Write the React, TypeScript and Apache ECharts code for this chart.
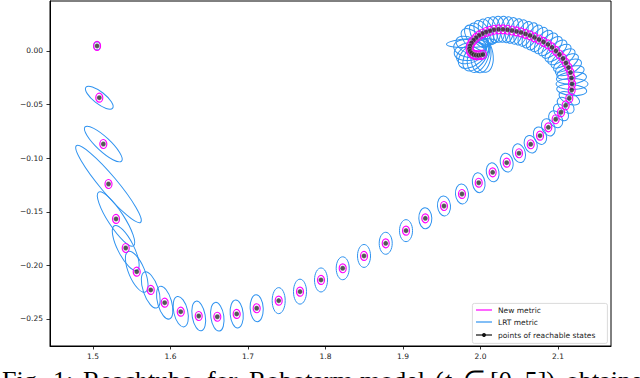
import React, { useEffect, useRef } from "react";
import * as echarts from "echarts";

// Centres of the reachable states (x, y)
const stateX = [1.5052, 1.5081, 1.5133, 1.52, 1.5297, 1.5422, 1.5564, 1.5745, 1.5925, 1.6132, 1.6364, 1.6604, 1.6854, 1.7112, 1.7396, 1.7671, 1.7942, 1.8222, 1.8497, 1.8777, 1.9039, 1.9288, 1.9529, 1.9761, 1.9977, 2.0157, 2.0338, 2.0497, 2.0648, 2.0768, 2.0875, 2.097, 2.1039, 2.1099, 2.1146, 2.1177, 2.1181, 2.1174, 2.1161, 2.1135, 2.1103, 2.1065, 2.1019, 2.0974, 2.0923, 2.0871, 2.0813, 2.0755, 2.0697, 2.0639, 2.0581, 2.0523, 2.0465, 2.0406, 2.0348, 2.029, 2.0232, 2.0174, 2.0123, 2.0071, 2.0026, 1.9981, 1.9942, 1.991, 1.9884, 1.9865, 1.9858, 1.9865, 1.9884, 1.991, 1.9942, 1.9974, 2.0006, 2.0032];
const stateY = [0.0047, -0.0436, -0.0868, -0.1241, -0.1567, -0.1838, -0.2059, -0.2229, -0.2348, -0.2432, -0.2472, -0.2479, -0.2453, -0.24, -0.2329, -0.2245, -0.2136, -0.2027, -0.1912, -0.1794, -0.1676, -0.1561, -0.1446, -0.1334, -0.1229, -0.1132, -0.1042, -0.0954, -0.087, -0.079, -0.0712, -0.0637, -0.0572, -0.0507, -0.0441, -0.0364, -0.0308, -0.0252, -0.0201, -0.0154, -0.0112, -0.007, -0.0033, 0.0, 0.0033, 0.0061, 0.0084, 0.0107, 0.0126, 0.0145, 0.0159, 0.0173, 0.0182, 0.0191, 0.0198, 0.0202, 0.0202, 0.0198, 0.0188, 0.0177, 0.0163, 0.0145, 0.0123, 0.01, 0.0075, 0.0047, 0.0021, -0.0003, -0.0021, -0.0033, -0.0039, -0.004, -0.0037, -0.0033];

// LRT metric ellipses: semi-axes (in x-axis units) and tilt (degrees)
const lrtMajor = [0.0052, 0.0219, 0.0323, 0.0645, 0.0413, 0.0323, 0.0284, 0.0245, 0.0219, 0.02, 0.0194, 0.0187, 0.0181, 0.0174, 0.0168, 0.0161, 0.0155, 0.0148, 0.0148, 0.0142, 0.0142, 0.0135, 0.0129, 0.0129, 0.0129, 0.0123, 0.0123, 0.0123, 0.0116, 0.0116, 0.0116, 0.0116, 0.0123, 0.0129, 0.0142, 0.0194, 0.0206, 0.0194, 0.0181, 0.0181, 0.0181, 0.0181, 0.0181, 0.0181, 0.0174, 0.0174, 0.0174, 0.0174, 0.0174, 0.0174, 0.0168, 0.0168, 0.0168, 0.0168, 0.0168, 0.0168, 0.0168, 0.0168, 0.0174, 0.0174, 0.0181, 0.0181, 0.0194, 0.0194, 0.0323, 0.0194, 0.0206, 0.0206, 0.0206, 0.0232, 0.0232, 0.0232, 0.0232, 0.0232];
const lrtMinor = [0.0045, 0.0077, 0.009, 0.011, 0.0103, 0.0103, 0.0103, 0.0097, 0.009, 0.009, 0.0084, 0.0084, 0.0084, 0.0084, 0.0084, 0.0084, 0.0084, 0.0084, 0.0084, 0.0084, 0.0084, 0.0084, 0.0084, 0.0084, 0.0081, 0.0081, 0.0081, 0.0081, 0.0081, 0.0081, 0.0081, 0.0081, 0.0077, 0.0077, 0.0071, 0.0071, 0.0071, 0.0077, 0.0077, 0.0084, 0.0084, 0.0084, 0.0084, 0.0084, 0.0084, 0.0084, 0.0084, 0.0084, 0.0084, 0.0084, 0.0084, 0.0084, 0.0084, 0.0084, 0.0084, 0.0084, 0.0084, 0.0084, 0.009, 0.009, 0.009, 0.009, 0.0103, 0.0103, 0.0058, 0.0103, 0.0116, 0.0116, 0.0116, 0.0129, 0.0129, 0.0129, 0.0129, 0.0129];
const lrtAngle = [90, -38, -43, -50, -57, -63, -67, -71, -74, -77, -80, -82, -85, -87, 90, 90, 90, 90, 90, 90, 90, 92, 95, 95, 98, 100, 102, 105, 108, 110, 115, 120, 128, 138, 155, 175, 0, 5, 15, 25, 32, 36, 40, 45, 48, 52, 56, 60, 64, 67, 70, 74, 77, 80, 84, 87, 92, 96, 102, 108, 115, 122, 130, 138, 3, 155, 170, 10, 25, 40, 55, 70, 85, 100];

// New metric ellipses (semi-axes in x-axis units, tilt in degrees)
const newMajor = [0.0058];
const newMinor = [0.0045];
const newAngle = [90];

// Axis ticks
const xTicks = [1.5, 1.6, 1.7, 1.8, 1.9, 2.0, 2.1];
const yTicks = [0, -0.05, -0.1, -0.15, -0.2, -0.25];

const legendNames = ["New metric", "LRT metric", "points of reachable states"];

const BLUE = "#2f93f0";
const MAGENTA = "#ff00ff";

function ellipseRenderer(color: string, lw: number) {
  return (params: any, api: any) => {
    const c = api.coord([api.value(0), api.value(1)]);
    const a = api.size([api.value(2), 0])[0];
    const b = api.size([api.value(3), 0])[0];
    const ang = (api.value(4) * Math.PI) / 180;
    return {
      type: "ellipse",
      x: c[0],
      y: c[1],
      rotation: ang,
      shape: { cx: 0, cy: 0, rx: a, ry: b },
      style: { fill: "none", stroke: color, lineWidth: lw },
    };
  };
}

export default function App() {
  const ref = useRef<HTMLDivElement>(null);
  useEffect(() => {
    if (!ref.current) return;
    const chart = echarts.init(ref.current, null, { renderer: "svg" });
    const lrtData = stateX.map((x, i) => [x, stateY[i], lrtMajor[i], lrtMinor[i], lrtAngle[i]]);
    const newData = stateX.map((x, i) => [x, stateY[i], newMajor[0], newMinor[0], newAngle[0]]);
    const ptData = stateX.map((x, i) => [x, stateY[i]]);
    const serif = '"Liberation Serif", "Times New Roman", serif';
    const capFont = `26px ${serif}`;
    const capY = 380;
    const legFont = '7.5px "DejaVu Sans"';
    const cap = (x: number, text: string, italic = false) => ({
      type: "text",
      x,
      y: capY,
      style: { text, font: italic ? `italic ${capFont}` : capFont, fill: "#000", verticalAlign: "middle" },
    });
    chart.setOption({
      animation: false,
      grid: { left: 50, right: 29, top: 1, bottom: 32, show: true, borderColor: "#000", borderWidth: 1, backgroundColor: "transparent" },
      xAxis: {
        type: "value",
        min: 1.4445,
        max: 2.1684,
        axisLine: { show: true, onZero: false, lineStyle: { color: "#000", width: 1 } },
        axisTick: { show: true, length: 3.5, customValues: xTicks, lineStyle: { color: "#000", width: 0.8 } },
        axisLabel: { customValues: xTicks, margin: 6, fontSize: 7.5, fontFamily: "DejaVu Sans", color: "#222", formatter: (v: number) => v.toFixed(1) },
        splitLine: { show: false },
      },
      yAxis: {
        type: "value",
        min: -0.2752,
        max: 0.0466,
        axisLine: { show: true, onZero: false, lineStyle: { color: "#000", width: 1 } },
        axisTick: { show: true, length: 3.5, customValues: yTicks, lineStyle: { color: "#000", width: 0.8 } },
        axisLabel: { customValues: yTicks, margin: 7, fontSize: 7.5, fontFamily: "DejaVu Sans", color: "#222", formatter: (v: number) => v.toFixed(2).replace("-", "\u2212") },
        splitLine: { show: false },
      },
      series: [
        { type: "custom", name: legendNames[1], data: lrtData, renderItem: ellipseRenderer(BLUE, 1), encode: { x: 0, y: 1 }, z: 2 },
        { type: "custom", name: legendNames[0], data: newData, renderItem: ellipseRenderer(MAGENTA, 1.2), encode: { x: 0, y: 1 }, z: 3 },
        { type: "scatter", name: legendNames[2], data: ptData, symbol: "circle", symbolSize: 5, itemStyle: { color: "#2a2a2a", borderColor: "#ddd", borderWidth: 0.4 }, z: 4 },
      ],
      graphic: [
        { type: "rect", left: 472, top: 303, shape: { width: 135, height: 40, r: 2 }, style: { fill: "rgba(255,255,255,0.85)", stroke: "#d0d0d0", lineWidth: 0.8 }, z: 100 },
        { type: "line", shape: { x1: 476, y1: 310, x2: 492, y2: 310 }, style: { stroke: MAGENTA, lineWidth: 1.2 }, z: 101 },
        { type: "line", shape: { x1: 476, y1: 322, x2: 492, y2: 322 }, style: { stroke: BLUE, lineWidth: 1.2 }, z: 101 },
        { type: "line", shape: { x1: 476, y1: 335, x2: 492, y2: 335 }, style: { stroke: "#111", lineWidth: 1.2 }, z: 101 },
        { type: "circle", shape: { cx: 484, cy: 335, r: 2 }, style: { fill: "#111" }, z: 102 },
        { type: "text", x: 498, y: 310, style: { text: legendNames[0], font: legFont, fill: "#222", verticalAlign: "middle" }, z: 101 },
        { type: "text", x: 498, y: 322, style: { text: legendNames[1], font: legFont, fill: "#222", verticalAlign: "middle" }, z: 101 },
        { type: "text", x: 498, y: 335, style: { text: legendNames[2], font: legFont, fill: "#222", verticalAlign: "middle" }, z: 101 },
        cap(2, "Fig."),
        cap(53, "1:"),
        cap(83, "Reachtube"),
        cap(207, "for"),
        cap(249, "Robotarm"),
        cap(360, "model"),
        cap(435, "("),
        cap(444, "t", true),
        cap(463, "\u2208"),
        cap(490, "[0, 5])"),
        cap(566, "obtained"),
      ],
    });
    return () => chart.dispose();
  }, []);
  return <div ref={ref} style={{ position: "absolute", left: 0, top: 0, width: 640, height: 378, background: "#fff" }} />;
}
